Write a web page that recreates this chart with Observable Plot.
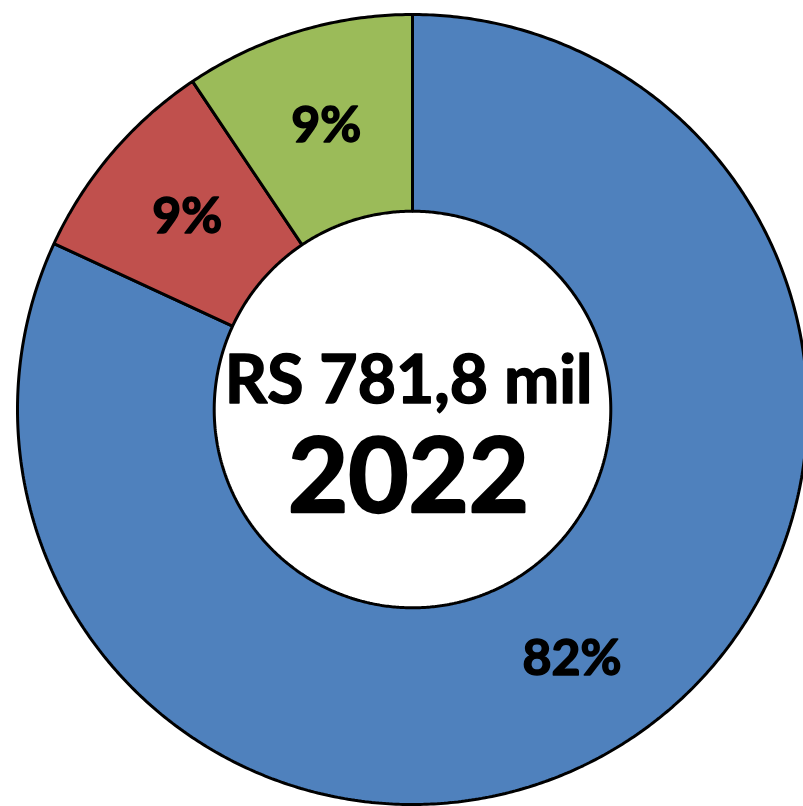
<!DOCTYPE html>
<html>
<head>
<meta charset="utf-8">
<script src="https://cdn.jsdelivr.net/npm/d3@7"></script>
<script src="https://cdn.jsdelivr.net/npm/@observablehq/plot@0.6"></script>
<style>
  html, body { margin: 0; padding: 0; background: #fff; }
  #chart svg { display: block; }
</style>
</head>
<body>
<div id="chart"></div>
<script>
// ---- data ----
const categories = ["Categoria A", "Categoria B", "Categoria C"];
const values = [81.9, 8.7, 9.4];
const valueLabels = ["82%", "9%", "9%"];
const palette = ["#4F81BD", "#C0504D", "#9BBB59"];
const centerLine1 = "RS 781,8 mil";
const centerLine2 = "2022";

// ---- geometry (unit circle coordinates, angle clockwise from 12 o'clock) ----
const innerR = 0.502;
const total = d3.sum(values);
let acc = 0;
const slices = categories.map((c, i) => {
  const a0 = acc / total * 2 * Math.PI;
  acc += values[i];
  const a1 = acc / total * 2 * Math.PI;
  return {category: c, a0, a1, label: valueLabels[i]};
});

const ringPoints = [];
for (const s of slices) {
  const n = Math.max(8, Math.ceil((s.a1 - s.a0) / (Math.PI / 360)));
  for (let k = 0; k <= n; k++) {
    const a = s.a0 + (s.a1 - s.a0) * k / n;
    ringPoints.push({category: s.category, x: Math.sin(a), y: Math.cos(a)});
  }
  for (let k = n; k >= 0; k--) {
    const a = s.a0 + (s.a1 - s.a0) * k / n;
    ringPoints.push({category: s.category, x: innerR * Math.sin(a), y: innerR * Math.cos(a)});
  }
}

const labelR = 0.75;
const labelPoints = slices.map(s => {
  const a = (s.a0 + s.a1) / 2;
  return {label: s.label, x: labelR * Math.sin(a), y: labelR * Math.cos(a)};
});

const plot = Plot.plot({
  width: 803,
  height: 806,
  margin: 0,
  style: {background: "#fff", fontFamily: "Lato, 'Open Sans', sans-serif"},
  x: {domain: [-1, 1], range: [17, 807], axis: null},
  y: {domain: [-1, 1], range: [804, 14], axis: null},
  color: {domain: categories, range: palette},
  marks: [
    Plot.line(ringPoints, {
      x: "x", y: "y", z: "category", fill: "category",
      stroke: "#000", strokeWidth: 3, curve: "linear-closed", strokeLinejoin: "miter"
    }),
    Plot.text(labelPoints, {
      x: "x", y: "y", text: "label",
      fontSize: 50, fontWeight: "bold", fill: "#000",
      stroke: "#000", strokeWidth: 1.6
    }),
    Plot.text([centerLine1], {
      x: () => -0.01, y: () => 0.07, text: d => d,
      fontSize: 66, fontWeight: "bold", fill: "#000",
      stroke: "#000", strokeWidth: 1.6
    }),
    Plot.text([centerLine2], {
      x: () => -0.01, y: () => -0.175, text: d => d,
      fontSize: 104, fontWeight: "bold", fill: "#000",
      stroke: "#000", strokeWidth: 2.4
    })
  ]
});
document.getElementById("chart").appendChild(plot);
</script>
</body>
</html>
